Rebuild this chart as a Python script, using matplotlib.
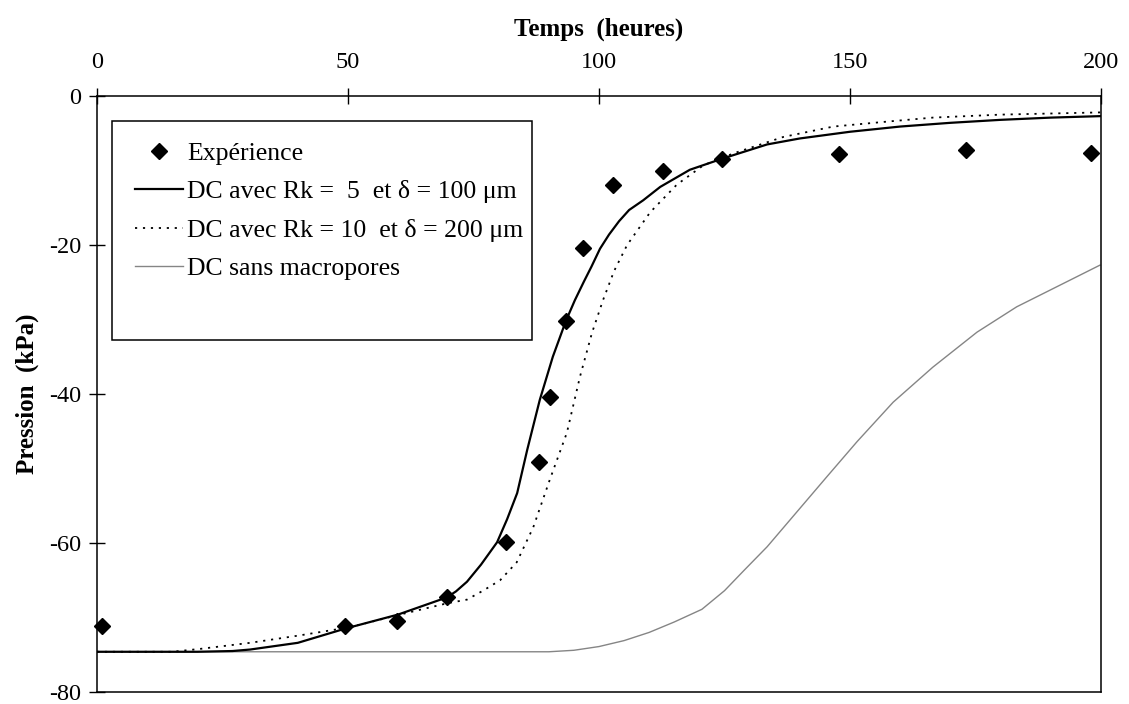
import matplotlib
matplotlib.use("Agg")
import matplotlib.pyplot as plt
from matplotlib.patches import Rectangle

plt.rcParams['font.family'] = ['Liberation Serif', 'DejaVu Serif']
plt.rcParams['axes.unicode_minus'] = False

# experimental points (hours, kPa)
exp_t = [1, 49.4, 59.7, 69.7, 81.5, 88.1, 90.2, 93.4, 96.8, 102.7, 112.8, 124.6, 147.8, 173.1, 198]
exp_p = [-71.1, -71.1, -70.5, -67.2, -59.9, -49.1, -40.4, -30.2, -20.4, -11.9, -10.1, -8.4, -7.8, -7.25, -7.65]

# DC, Rk = 5, delta = 100 um
rk5_t = [0, 20, 27, 30.5, 40, 49.4, 60, 69.7, 71.5, 73.7, 76.5, 79.7, 81.7, 83.7, 85.7, 88.2,
         90.8, 93.4, 95.2, 97, 98.5, 100.2, 102, 104, 106, 108.8, 112.2, 118.1, 124.6, 133.5,
         140, 150, 160, 170, 180, 190, 200]
rk5_p = [-74.6, -74.6, -74.5, -74.3, -73.4, -71.5, -69.6, -67.3, -66.5, -65.2, -62.9, -59.9,
         -56.8, -53.3, -47.5, -40.8, -35.0, -30.2, -27.4, -24.9, -22.9, -20.5, -18.6, -16.8,
         -15.3, -14.0, -12.2, -9.9, -8.4, -6.5, -5.7, -4.8, -4.1, -3.6, -3.2, -2.9, -2.7]

# DC, Rk = 10, delta = 200 um
rk10_t = [0, 15, 20.7, 30.5, 40.4, 50.4, 60.4, 69.7, 73.7, 76.9, 80.3, 83.6, 86.9, 90.2, 93.6,
          96.2, 98.6, 100.8, 103, 105.6, 110.2, 115.5, 120.8, 126.8, 136.7, 146.7, 158, 166.5,
          180, 200]
rk10_p = [-74.6, -74.6, -74.2, -73.4, -72.4, -71.3, -69.6, -68.1, -67.6, -66.4, -65.0, -62.6,
          -57.9, -51.5, -45.2, -37.7, -31.8, -27.4, -23.5, -20.0, -15.6, -11.9, -9.3, -7.7, -5.5,
          -4.1, -3.4, -2.9, -2.5, -2.2]

# DC without macropores
sans_t = [0, 90, 95, 100, 105, 110, 115, 120.5, 125, 129, 133.5, 145.4, 151.4, 158.6, 166.5,
          175.3, 183.2, 191.8, 199.8]
sans_p = [-74.6, -74.6, -74.4, -73.9, -73.1, -72.0, -70.6, -68.9, -66.4, -63.6, -60.5, -51.1,
          -46.4, -41.1, -36.4, -31.7, -28.3, -25.4, -22.7]

labels = ["Expérience",
          "DC avec Rk =  5  et δ = 100 μm",
          "DC avec Rk = 10  et δ = 200 μm",
          "DC sans macropores"]

fig = plt.figure(figsize=(11.29, 7.04), dpi=100)
ax = fig.add_axes([97 / 1129, 1 - 692 / 704, (1101 - 97) / 1129, (692 - 96) / 704])

l_sans, = ax.plot(sans_t, sans_p, color='#858585', lw=1.0, label=labels[3])
l10, = ax.plot(rk10_t, rk10_p, color='black', lw=1.3, linestyle=(0, (1.2, 3.2)), label=labels[2])
l5, = ax.plot(rk5_t, rk5_p, color='black', lw=1.6, label=labels[1])
pts, = ax.plot(exp_t, exp_p, linestyle='none', marker='D', ms=8, color='black', clip_on=False,
               zorder=5, label=labels[0])

ax.set_xlim(0, 200)
ax.set_ylim(-80, 0)
ax.set_xticks([0, 50, 100, 150, 200])
ax.set_yticks([0, -20, -40, -60, -80])

ax.xaxis.tick_top()
ax.xaxis.set_label_position('top')
ax.tick_params(axis='x', direction='inout', length=11, width=1, labelsize=17.5, pad=11,
               top=True, bottom=False)
ax.tick_params(axis='y', direction='inout', length=11, width=1, labelsize=17.5, pad=6,
               left=True, right=False)
for s in ax.spines.values():
    s.set_linewidth(1.1)

ax.set_xlabel("Temps  (heures)", fontsize=18, fontweight='bold', labelpad=12)
ax.set_ylabel("Pression  (kPa)", fontsize=18, fontweight='bold', labelpad=7)

# legend frame (extra empty space at the bottom as in the original)
ax.add_patch(Rectangle((15 / 1004, (692 - 340) / 596), 420 / 1004, 219 / 596,
                       transform=ax.transAxes, fill=True, facecolor='white',
                       edgecolor='black', lw=1.1, zorder=6))
leg = ax.legend(handles=[pts, l5, l10, l_sans], loc='upper left',
                bbox_to_anchor=(38 / 1004, 1 - 46 / 596), frameon=False, fontsize=18.5,
                handlelength=1.87, handletextpad=0.15, labelspacing=0.6, borderpad=0,
                borderaxespad=0)
leg.set_zorder(7)

fig.savefig("out.png", dpi=100)
